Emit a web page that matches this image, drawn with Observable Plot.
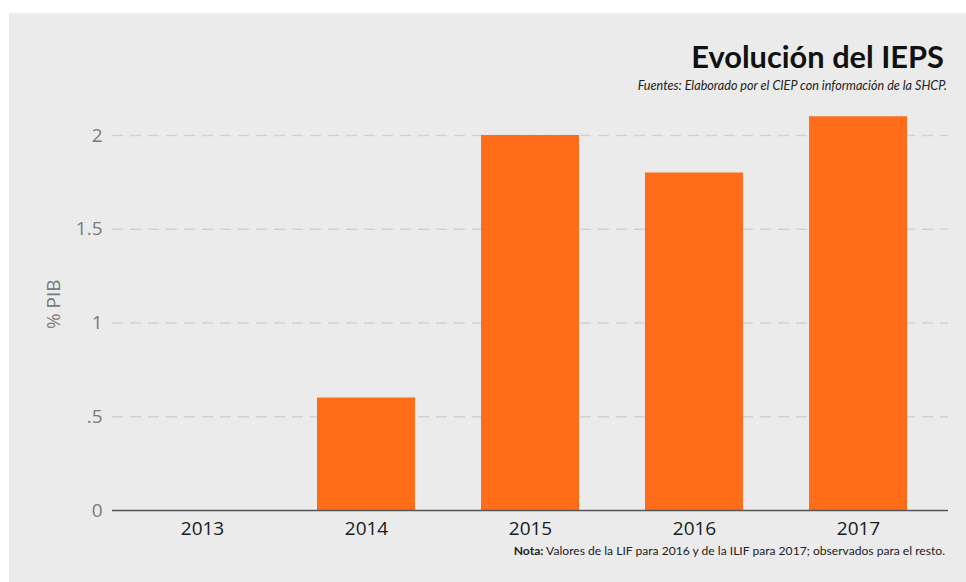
<!DOCTYPE html>
<html>
<head>
<meta charset="utf-8">
<script src="https://cdn.jsdelivr.net/npm/d3@7"></script>
<script src="https://cdn.jsdelivr.net/npm/@observablehq/plot@0.6"></script>
<style>
  html, body { margin: 0; padding: 0; background: #ffffff; }
  #wrap { position: relative; width: 966px; height: 582px; overflow: hidden; }
  #panel { position: absolute; left: 9px; top: 13px; right: 0; bottom: 0; background: #ebebeb; }
  #chart { position: absolute; left: 0; top: 0; }
  .txt { position: absolute; white-space: nowrap; font-family: Lato, "Open Sans", sans-serif; line-height: 1; }
  #title { right: 22px; top: 42px; font-size: 30.8px; font-weight: 700; color: #111; }
  #subtitle { right: 19px; top: 79.5px; font-size: 12.6px; font-style: italic; color: #222; }
  #note { right: 21px; top: 544.5px; font-size: 12.1px; color: #222; }
</style>
</head>
<body>
<div id="wrap">
  <div id="panel"></div>
  <div id="chart"></div>
  <div id="title" class="txt">Evolución del IEPS</div>
  <div id="subtitle" class="txt">Fuentes: Elaborado por el CIEP con información de la SHCP.</div>
  <div id="note" class="txt"><b>Nota:</b> Valores de la LIF para 2016 y de la ILIF para 2017; observados para el resto.</div>
</div>
<script>
const years = ["2013", "2014", "2015", "2016", "2017"];
const values = [0, 0.6, 2.0, 1.8, 2.1];
const yTicks = [0, 0.5, 1, 1.5, 2];
const yTickLabels = ["0", ".5", "1", "1.5", "2"];

const data = years.map((y, i) => ({year: y, value: values[i]}));

const chart = Plot.plot({
  width: 966,
  height: 582,
  marginLeft: 112,
  marginRight: 18,
  marginTop: 97.5,
  marginBottom: 72,
  style: {background: "transparent", fontFamily: "'Open Sans', sans-serif", overflow: "visible"},
  x: {domain: years, paddingInner: 0.4, paddingOuter: 0.244, label: null},
  y: {domain: [0, 2.2], label: null},
  marks: [
    Plot.gridY(yTicks.slice(1), {stroke: "#d2d2d2", strokeOpacity: 1, strokeWidth: 1.5, strokeDasharray: "11,7"}),
    Plot.barY(data, {x: "year", y: "value", fill: "#ff6d1b"}),
    Plot.ruleY([0], {stroke: "#555555", strokeWidth: 1.5}),
    Plot.axisY(yTicks, {
      tickFormat: d => yTickLabels[yTicks.indexOf(d)],
      tickSize: 0, tickPadding: 10, fontSize: 19, fill: "#7a7a7a",
      label: "% PIB", labelAnchor: "center", labelArrow: "none", labelOffset: 66
    }),
    Plot.axisX({tickSize: 0, tickPadding: 11, fontSize: 19, fill: "#1a1a1a", label: null})
  ]
});
document.getElementById("chart").appendChild(chart);
</script>
</body>
</html>
